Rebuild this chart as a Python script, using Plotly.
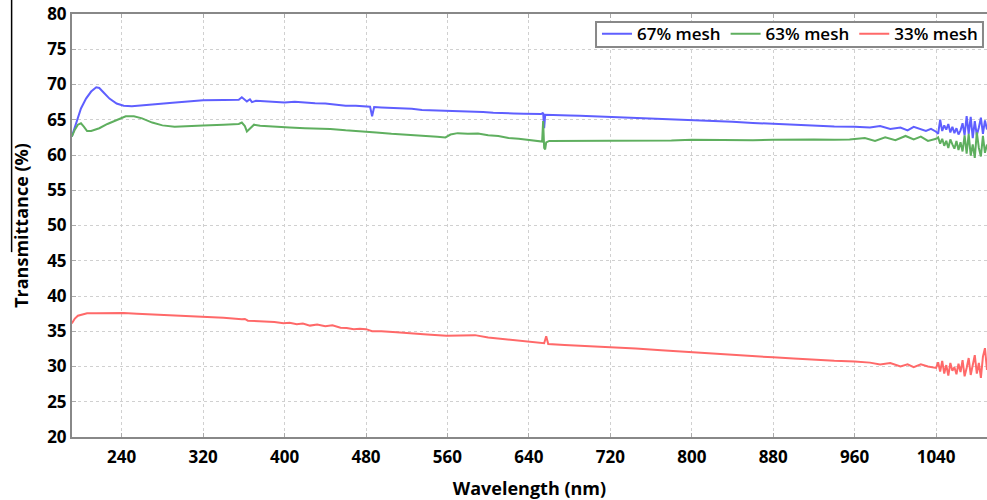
import plotly.graph_objects as go

# ---------------- data ----------------
wl_67 = [191, 195, 200, 205, 210, 215, 218, 222, 228, 235, 242, 250, 260, 275, 290, 305, 320, 340, 355,
         358, 360, 363, 366, 368, 372, 380, 390, 400, 410, 420, 430, 440, 450, 460, 470, 480, 484, 486, 488,
         495, 505, 515, 525, 535, 545, 555, 565, 575, 585, 595, 605, 615, 625, 635, 645, 652, 654, 655, 656,
         660, 670, 680, 690, 700, 720, 740, 760, 780, 800, 820, 840, 860, 880, 900, 920, 940, 960, 975, 985,
         995, 1005, 1012, 1018, 1025, 1030, 1035, 1040,
         1042, 1044, 1046, 1048, 1050, 1052, 1054, 1056, 1058, 1060, 1062, 1064, 1066, 1068, 1070, 1072,
         1074, 1076, 1078, 1080, 1082, 1084, 1086, 1088, 1090]
t_67 = [62.6, 64.5, 66.6, 68.0, 69.0, 69.6, 69.5, 68.9, 68.0, 67.3, 67.0, 66.9, 67.0, 67.2, 67.4, 67.6, 67.75, 67.8, 67.85,
        68.2, 67.9, 67.6, 67.9, 67.5, 67.7, 67.6, 67.5, 67.45, 67.55, 67.4, 67.35, 67.3, 67.1, 67.0, 67.0, 66.9, 66.85, 65.5, 66.8,
        66.75, 66.7, 66.6, 66.55, 66.4, 66.35, 66.3, 66.35, 66.2, 66.15, 66.1, 66.0, 66.0, 65.9, 65.85, 65.8, 65.8, 66.0, 63.8, 65.7,
        65.7, 65.65, 65.6, 65.55, 65.5, 65.4, 65.25, 65.15, 65.05, 64.95, 64.8, 64.7, 64.55, 64.4, 64.3, 64.15, 64.05, 64.0, 63.9, 64.1,
        63.7, 63.9, 63.5, 64.0, 63.6, 63.4, 63.7, 63.3,
        63.0, 65.0, 63.4, 64.2, 63.6, 64.4, 63.2, 64.0, 63.1, 63.8, 62.9, 63.5, 64.5, 62.8, 65.5, 63.0,
        65.4, 62.4, 64.8, 62.8, 63.9, 65.3, 63.0, 64.9, 63.6]

wl_63 = [191, 194, 197, 200, 203, 206, 210, 218, 226, 235, 244, 252, 260, 270, 280, 292, 305, 320, 340, 355,
         358, 361, 363, 366, 370, 376, 390, 405, 420, 435, 445, 460, 475, 490, 505, 520, 535, 550, 558, 563,
         570, 580, 590, 600, 610, 620, 630, 640, 650, 653, 654, 655, 656, 657, 660, 680, 700, 720, 740, 760,
         780, 800, 820, 840, 860, 880, 900, 920, 940, 955, 970, 980, 990, 1000, 1010, 1018, 1025, 1032, 1040,
         1042, 1044, 1046, 1048, 1050, 1052, 1054, 1056, 1058, 1060, 1062, 1064, 1066, 1068, 1070, 1072,
         1074, 1076, 1078, 1080, 1082, 1084, 1086, 1088, 1090]
t_63 = [62.6, 63.6, 64.3, 64.5, 64.0, 63.4, 63.4, 63.8, 64.4, 65.0, 65.5, 65.5, 65.2, 64.6, 64.2, 64.0, 64.05, 64.2, 64.3, 64.4,
        64.6, 64.1, 63.35, 63.8, 64.3, 64.15, 64.0, 63.9, 63.8, 63.75, 63.7, 63.5, 63.4, 63.2, 63.0, 62.9, 62.75, 62.6, 62.5, 62.9,
        63.1, 63.0, 63.05, 62.8, 62.7, 62.4, 62.3, 62.1, 61.9, 61.9, 64.8, 61.0, 60.8, 61.8, 62.0, 62.0, 62.05, 62.1, 62.0, 62.1,
        62.05, 62.15, 62.1, 62.15, 62.1, 62.15, 62.2, 62.2, 62.15, 62.2, 62.4, 62.0, 62.5, 62.1, 62.7, 62.2, 62.6, 62.0, 62.3,
        62.5, 61.6, 62.3, 61.3, 62.0, 61.0, 62.2, 61.5, 60.9, 62.0, 60.7, 61.8, 60.5, 62.8, 60.2, 63.0,
        59.9, 61.5, 59.6, 63.2, 61.0, 59.8, 62.7, 60.3, 61.5]

wl_33 = [191, 194, 197, 201, 206, 215, 225, 235, 242, 255, 270, 285, 300, 320, 340, 358, 361, 364, 372, 380,
         390, 399, 405, 412, 418, 425, 432, 440, 447, 455, 461, 468, 474, 480, 486, 495, 510, 525, 540, 559,
         570, 580, 587, 600, 615, 630, 645, 655, 657, 659, 675, 700, 720, 745, 770, 790, 810, 835, 860, 880,
         900, 920, 940, 960, 975, 985, 995, 1005, 1012, 1018, 1025, 1032, 1040,
         1042, 1044, 1046, 1048, 1050, 1052, 1054, 1056, 1058, 1060, 1062, 1064, 1066, 1068, 1070, 1072,
         1074, 1076, 1078, 1080, 1082, 1084, 1086, 1088, 1090]
t_33 = [36.1, 36.8, 37.2, 37.4, 37.55, 37.55, 37.6, 37.6, 37.6, 37.5, 37.4, 37.3, 37.2, 37.1, 36.9, 36.7, 36.75, 36.5, 36.5, 36.4,
        36.3, 36.15, 36.2, 36.0, 36.1, 35.8, 35.95, 35.7, 35.85, 35.5, 35.45, 35.3, 35.35, 35.3, 35.0, 35.0, 34.85, 34.75, 34.55, 34.35,
        34.4, 34.5, 34.45, 34.1, 33.9, 33.65, 33.45, 33.3, 34.3, 33.2, 33.05, 32.9, 32.8, 32.55, 32.3, 32.1, 31.95, 31.7, 31.5, 31.3,
        31.15, 30.95, 30.8, 30.7, 30.55, 30.3, 30.5, 30.0, 30.3, 29.9, 30.3, 30.0, 29.8,
        30.6, 29.3, 30.8, 29.0, 30.2, 28.7, 30.5, 29.4, 29.9, 28.9, 30.4, 29.2, 30.9, 28.6, 29.8, 31.2,
        28.8, 30.0, 31.6, 29.0, 30.5, 28.4, 31.4, 32.6, 29.5]

series_names = ["67% mesh", "63% mesh", "33% mesh"]
x_ticks = [240, 320, 400, 480, 560, 640, 720, 800, 880, 960, 1040]
y_ticks = [20, 25, 30, 35, 40, 45, 50, 55, 60, 65, 70, 75, 80]

# ---------------- figure ----------------
colors = ["rgb(95,95,255)", "rgb(95,175,95)", "rgb(255,105,105)"]
fig = go.Figure()
for name, xs, ys, c in zip(series_names, [wl_67, wl_63, wl_33], [t_67, t_63, t_33], colors):
    fig.add_trace(go.Scatter(x=xs, y=ys, mode="lines", name=name,
                             line=dict(color=c, width=2)))

font_family = "Open Sans, DejaVu Sans, sans-serif"
fig.update_layout(
    width=987, height=500,
    margin=dict(l=72, r=0, t=14, b=63),
    plot_bgcolor="white", paper_bgcolor="white",
    font=dict(family=font_family, color="black"),
    legend=dict(orientation="h", x=0.9956, xanchor="right", y=0.952, yanchor="middle",
                borderwidth=0, bgcolor="rgba(0,0,0,0)",
                font=dict(size=17, family=font_family, color="black", weight=600),
                itemwidth=30, tracegroupgap=0),
    showlegend=True,
)
fig.update_xaxes(
    range=[191.2, 1090], tickvals=x_ticks, ticktext=[str(v) for v in x_ticks],
    showline=True, linecolor="#888888", linewidth=2, mirror="ticks",
    ticks="inside", ticklen=4, tickcolor="#aaaaaa",
    showgrid=True, gridcolor="#d0d0d0", griddash="dot", gridwidth=1,
    zeroline=False, ticklabelstandoff=4,
    tickfont=dict(size=17, family=font_family, color="black", weight="bold"),
    title=dict(text="Wavelength (nm)", font=dict(size=18, family=font_family, color="black", weight="bold"),
               standoff=16),
)
fig.update_yaxes(
    range=[20, 80], tickvals=y_ticks,
    showline=True, linecolor="#888888", linewidth=2,
    ticks="inside", ticklen=4, tickcolor="#aaaaaa",
    showgrid=True, gridcolor="#d0d0d0", griddash="dot", gridwidth=1,
    zeroline=False,
    tickfont=dict(size=17, family=font_family, color="black", weight="bold"),
    title=dict(text="Transmittance (%)", font=dict(size=18, family=font_family, color="black", weight="bold"),
               standoff=14),
)
# legend frame
fig.add_shape(type="rect", xref="paper", yref="paper", x0=0.5727, x1=0.9956, y0=0.922, y1=0.981,
              line=dict(color="#888888", width=2), fillcolor="white", layer="above")
# thin black border fragment at the far left of the original image
fig.add_shape(type="line", xref="paper", yref="paper", x0=-0.066, x1=-0.066, y0=0.437, y1=1.04,
              line=dict(color="black", width=1.5))

fig.write_html("out.html")
